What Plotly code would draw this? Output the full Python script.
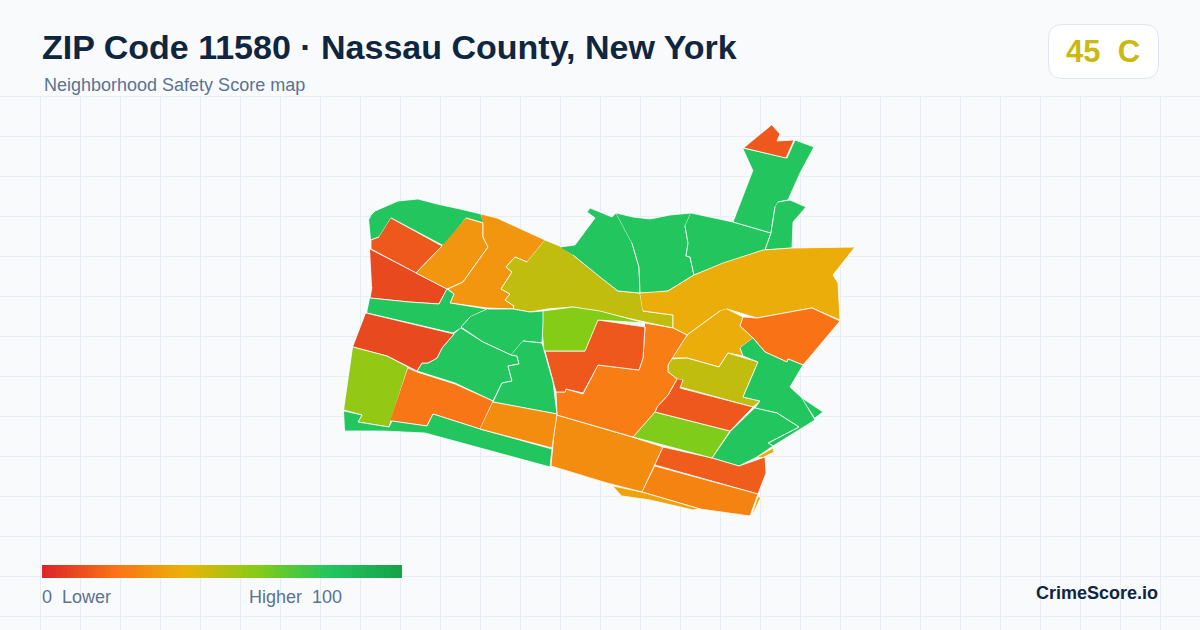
import plotly.graph_objects as go
from plotly.colors import sample_colorscale

# Safety score colour ramp
score_colors = ['#dc2626', '#f97316', '#eab308', '#84cc16', '#22c55e', '#16a34a']
colorscale = [[i / 5, c] for i, c in enumerate(score_colors)]

overall_score = '45\u00a0\u00a0C'

# Block groups: score and outline, outlines
tract_scores = [80, 13, 9, 31, 31, 48, 80, 80, 80, 80, 13, 80, 38, 20, 38, 48, 80, 80, 80, 37,
                37, 14, 25, 35, 28, 61, 13, 23, 13, 60, 80, 80, 80, 80, 9, 57, 21, 80, 28]
tract_x = [
    [369, 371, 375, 382, 398, 418, 437, 460, 481, 484, 466, 444, 391, 379, 371],
    [391, 442, 416, 371, 371, 379],
    [370, 416, 447, 439, 409, 370, 372],
    [466, 483, 483, 488, 463, 447, 416, 442],
    [481, 497, 545, 527, 515, 506, 512, 501, 510, 505, 514, 513, 487, 450, 454, 448, 463, 488, 483, 483],
    [545, 562, 573, 600, 618, 640, 643, 673, 673, 645, 600, 573, 547, 530, 513, 514, 505, 510, 501, 512, 506, 515, 527],
    [560, 575, 595, 587, 590, 600, 612, 616, 632, 639, 640, 618, 600, 573],
    [616, 633, 650, 670, 691, 685, 688, 686, 690, 694, 668, 653, 640, 639, 632],
    [691, 733, 771, 765, 743, 694, 690, 686, 688, 685],
    [743, 787, 795, 814, 800, 788, 778, 775, 771, 733, 753],
    [772, 780, 777, 794, 786, 744],
    [778, 790, 806, 793, 792, 765, 771, 775],
    [640, 668, 694, 723, 763, 792, 855, 833, 838, 840, 812, 757, 727, 720, 687, 673, 673, 643],
    [743, 757, 812, 840, 803, 788, 787, 765, 753, 740],
    [727, 743, 740, 753, 740, 743, 728, 719, 687, 672, 687, 720],
    [669, 687, 719, 728, 758, 743, 760, 753, 680, 683, 677, 668],
    [753, 765, 787, 788, 803, 790, 802, 815, 773, 768, 799, 777, 755, 760, 743, 758, 743, 740],
    [755, 777, 799, 768, 773, 757, 739, 712, 730],
    [802, 823, 815],
    [757, 773, 774, 764],
    [758, 761, 752],
    [663, 712, 739, 765, 766, 758, 655],
    [655, 758, 750, 700, 642],
    [613, 642, 700, 693, 650, 622],
    [557, 632, 663, 642, 607, 551, 554],
    [655, 730, 712, 633],
    [683, 680, 753, 730, 655, 657, 668, 677],
    [645, 673, 687, 672, 668, 668, 677, 668, 657, 655, 633, 557, 556, 565, 566, 583, 598, 639, 643, 645],
    [598, 645, 643, 639, 598, 583, 566, 565, 556, 545, 585],
    [543, 573, 600, 645, 598, 585, 544, 542],
    [370, 409, 439, 447, 454, 450, 487, 470, 461, 453, 367],
    [488, 513, 530, 543, 543, 542, 523, 511, 483, 461, 470],
    [461, 483, 511, 517, 519, 508, 512, 502, 493, 455, 417, 422, 428, 437, 442, 454],
    [523, 542, 553, 557, 493, 502, 512, 508, 519, 517, 511],
    [366, 454, 442, 437, 428, 422, 417, 387, 353],
    [353, 387, 408, 389, 358, 362, 344],
    [408, 417, 455, 493, 480, 433, 427, 390],
    [344, 362, 358, 389, 392, 427, 433, 480, 552, 550, 425, 383, 345],
    [493, 557, 552, 480],
]
tract_y = [
    [219, 215, 211, 208, 201, 199, 204, 209, 214, 223, 218, 246, 218, 237, 240],
    [218, 246, 273, 249, 240, 237],
    [249, 273, 289, 304, 302, 298, 287],
    [218, 223, 237, 247, 282, 289, 273, 246],
    [214, 218, 240, 262, 257, 267, 272, 289, 294, 300, 306, 309, 308, 303, 294, 289, 282, 247, 237, 223],
    [240, 247, 255, 277, 291, 293, 311, 315, 328, 322, 312, 307, 309, 312, 309, 306, 300, 294, 289, 272, 267, 257, 262],
    [247, 245, 218, 212, 208, 212, 217, 213, 243, 267, 293, 291, 277, 255],
    [213, 217, 219, 215, 213, 226, 243, 256, 257, 275, 291, 293, 293, 267, 243],
    [213, 222, 233, 250, 257, 275, 257, 256, 243, 226],
    [148, 158, 140, 147, 173, 200, 202, 207, 233, 222, 170],
    [125, 134, 141, 140, 158, 148],
    [202, 200, 207, 222, 248, 250, 233, 207],
    [293, 291, 275, 263, 250, 248, 247, 275, 283, 320, 308, 318, 309, 311, 335, 328, 315, 311],
    [317, 318, 308, 321, 365, 359, 362, 352, 338, 326],
    [309, 317, 326, 338, 348, 356, 353, 367, 358, 358, 335, 311],
    [359, 358, 367, 353, 362, 397, 401, 407, 387, 380, 379, 372],
    [338, 352, 362, 359, 365, 387, 398, 420, 446, 443, 427, 413, 408, 401, 397, 362, 356, 348],
    [408, 413, 427, 443, 446, 457, 466, 458, 432],
    [398, 412, 418],
    [457, 448, 452, 457],
    [497, 497, 516],
    [447, 458, 466, 457, 473, 494, 465],
    [466, 494, 516, 509, 492],
    [486, 492, 509, 510, 500, 496],
    [415, 437, 447, 492, 483, 466, 433],
    [412, 431, 458, 437],
    [380, 388, 407, 431, 412, 407, 395, 379],
    [323, 328, 335, 358, 365, 372, 379, 395, 407, 412, 437, 415, 392, 392, 389, 394, 365, 370, 358, 327],
    [320, 327, 358, 370, 365, 393, 389, 392, 392, 351, 351],
    [311, 307, 311, 323, 320, 351, 351, 330],
    [298, 302, 304, 289, 294, 303, 309, 317, 328, 333, 313],
    [309, 309, 312, 311, 323, 343, 341, 355, 342, 327, 317],
    [328, 342, 355, 356, 364, 366, 381, 383, 401, 383, 371, 363, 363, 358, 348, 334],
    [341, 343, 382, 414, 402, 383, 381, 366, 364, 356, 355],
    [313, 334, 348, 358, 363, 363, 371, 356, 347],
    [347, 356, 367, 427, 422, 415, 410],
    [368, 372, 384, 401, 429, 414, 426, 421],
    [411, 415, 422, 427, 421, 426, 414, 429, 449, 467, 433, 431, 431],
    [402, 414, 448, 429],
]

fig = go.Figure()

for score, xs, ys in zip(tract_scores, tract_x, tract_y):
    fig.add_trace(go.Scatter(x=xs, y=ys, mode='lines', fill='toself',
                             fillcolor=sample_colorscale(colorscale, score / 100)[0],
                             line=dict(color='white', width=0.8),
                             hoverinfo='skip', showlegend=False))

# Gradient legend
fig.add_trace(go.Heatmap(z=[list(range(101))], x0=43.78, dx=3.564, y0=571.5, dy=13,
                         colorscale=colorscale, zmin=0, zmax=100,
                         showscale=False, hoverinfo='skip'))

fig.update_xaxes(range=[0, 1200], showgrid=True, gridcolor='#e6edf5', gridwidth=1,
                 tick0=40.5, dtick=40, zeroline=False, showticklabels=False, ticks='', showline=False)
fig.update_yaxes(range=[630, 0], showgrid=True, gridcolor='#e6edf5', gridwidth=1,
                 tick0=16.5, dtick=40, zeroline=False, showticklabels=False, ticks='', showline=False)


def label(text, x, y, size, color, anchor='left', bold=False):
    fig.add_annotation(x=x, y=y, xref='x', yref='y', text=f'<b>{text}</b>' if bold else text,
                       showarrow=False, xanchor=anchor, yanchor='middle', align=anchor,
                       font=dict(family='Liberation Sans', size=size, color=color))


label('ZIP Code 11580 · Nassau County, New York', 40, 47, 34, '#10263f', bold=True)
label('Neighborhood Safety Score map', 42, 85, 18, '#5b7391')
label(overall_score, 1102.5, 51, 31, '#cbb811', anchor='center', bold=True)
label('0\u00a0\u00a0Lower', 40, 597, 18, '#5b7391')
label('Higher\u00a0\u00a0100', 247, 597, 18, '#5b7391')
label('CrimeScore.io', 1160, 593, 18, '#10263f', anchor='right', bold=True)

fig.update_layout(
    width=1200, height=630,
    margin=dict(l=0, r=0, t=0, b=0),
    paper_bgcolor='#f8fafc', plot_bgcolor='#f8fafc',
    shapes=[
        # header band hides the grid above the first line
        dict(type='rect', xref='x', yref='y', x0=0, x1=1200, y0=0, y1=96, layer='between',
             fillcolor='#f8fafc', line_width=0),
        # score badge
        dict(type='path', xref='x', yref='y', layer='above',
             path='M1062,24.5 H1144 Q1158.5,24.5 1158.5,38.5 V64 Q1158.5,78.5 1144,78.5 H1062 '
                  'Q1048.5,78.5 1048.5,64 V38.5 Q1048.5,24.5 1062,24.5 Z',
             fillcolor='white', line=dict(color='#dfe6ef', width=1)),
    ],
)

fig.write_html('out.html', config=dict(displayModeBar=False),
               post_script="document.body.style.margin='0';")
